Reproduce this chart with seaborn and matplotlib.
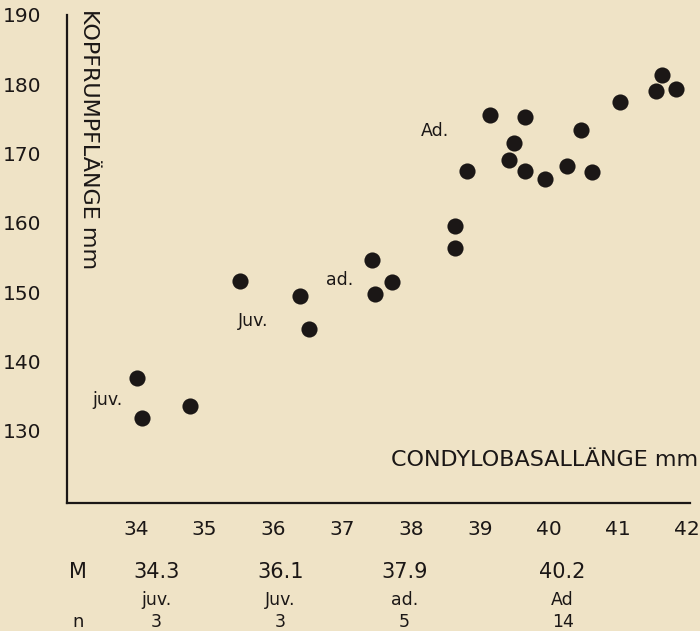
import matplotlib
matplotlib.use("Agg")
import matplotlib.pyplot as plt
import matplotlib.transforms as mtransforms
import seaborn as sns
import pandas as pd

# ---- data ----
juv_x = [34.01, 34.09, 34.79]
juv_y = [137.7, 131.9, 133.6]
Juv_x = [35.51, 36.39, 36.51]
Juv_y = [151.6, 149.5, 144.7]
ad_x = [37.43, 37.47, 37.72, 38.64, 38.63]
ad_y = [154.6, 149.7, 151.5, 159.5, 156.4]
Ad_x = [39.15, 39.66, 41.04, 41.55, 41.65, 41.84, 39.49, 40.46,
        39.42, 38.81, 39.66, 39.94, 40.26, 40.62]
Ad_y = [175.6, 175.3, 177.5, 179.0, 181.3, 179.3, 171.5, 173.4,
        169.1, 167.5, 167.5, 166.4, 168.2, 167.3]

group_names = ["juv.", "Juv.", "ad.", "Ad"]
group_means = [34.3, 36.1, 37.9, 40.2]
group_n = [3, 3, 5, 14]

x_ticks = [34, 35, 36, 37, 38, 39, 40, 41, 42]
y_ticks = [130, 140, 150, 160, 170, 180, 190]

x_label = "CONDYLOBASALLÄNGE mm"
y_label = "KOPFRUMPFLÄNGE mm"

# ---- style ----
BG = "#EFE3C6"
INK = "#1b1716"
sns.set_style("white")
plt.rcParams["font.family"] = ["DejaVu Sans"]
plt.rcParams["text.color"] = INK

df = pd.DataFrame({
    "x": juv_x + Juv_x + ad_x + Ad_x,
    "y": juv_y + Juv_y + ad_y + Ad_y,
})

fig = plt.figure(figsize=(7.0, 6.31), dpi=100, facecolor=BG)
ax = fig.add_axes([67 / 700, 1 - 503 / 631, (690 - 67) / 700, (503 - 15) / 631])
ax.set_facecolor(BG)

sns.scatterplot(data=df, x="x", y="y", ax=ax, s=135, color=INK,
                edgecolor=INK, linewidth=0, legend=False)

ax.set_xlim(33.0, 42.05)
ax.set_ylim(119.6, 190)
ax.set_xticks(x_ticks)
ax.set_yticks(y_ticks)
ax.set_xticklabels([str(v) for v in x_ticks])
ax.set_yticklabels([str(v) for v in y_ticks])
ax.set_xlabel("")
ax.set_ylabel("")

for s in ["top", "right"]:
    ax.spines[s].set_visible(False)
for s in ["left", "bottom"]:
    ax.spines[s].set_color(INK)
    ax.spines[s].set_linewidth(1.6)

ax.tick_params(axis="both", direction="out", length=4.5, width=1.4,
               colors=INK, labelsize=14.5)
ax.tick_params(axis="y", pad=14)
ax.tick_params(axis="x", pad=8)

# axis titles
ax.text(89 / 700, 1 - 9 / 631, y_label, transform=fig.transFigure,
        rotation=-90, ha="center", va="top", fontsize=16, color=INK)
ax.text(698 / 700, 1 - 460 / 631, x_label, transform=fig.transFigure,
        ha="right", va="center", fontsize=16, color=INK)

# group annotations inside plot
ann = [("juv.", 107, 400), ("Juv.", 253, 321), ("ad.", 340, 280), ("Ad.", 435, 131)]
for t, px, py in ann:
    ax.text(px / 700, 1 - py / 631, t, transform=fig.transFigure,
            ha="center", va="center", fontsize=12.5, color=INK)

# summary table below axis
tr = mtransforms.blended_transform_factory(ax.transData, fig.transFigure)
fig.text(78 / 700, 1 - 572 / 631, "M", ha="center", va="center", fontsize=15, color=INK)
fig.text(78 / 700, 1 - 622 / 631, "n", ha="center", va="center", fontsize=13, color=INK)
for name, m, n in zip(group_names, group_means, group_n):
    ax.text(m, 1 - 572 / 631, f"{m:.1f}", transform=tr, ha="center", va="center",
            fontsize=15, color=INK)
    ax.text(m, 1 - 600 / 631, name, transform=tr, ha="center", va="center",
            fontsize=12.5, color=INK)
    ax.text(m, 1 - 622 / 631, str(n), transform=tr, ha="center", va="center",
            fontsize=12.5, color=INK)

fig.savefig("out.png", dpi=100, facecolor=BG)
